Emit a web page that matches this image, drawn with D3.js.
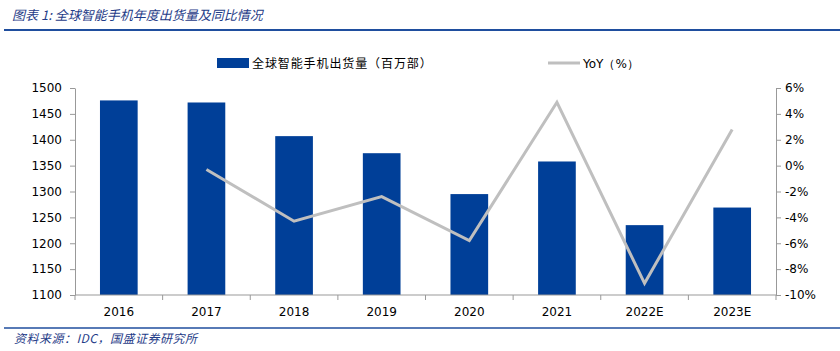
<!DOCTYPE html>
<html>
<head>
<meta charset="utf-8">
<script src="https://cdn.jsdelivr.net/npm/d3@7"></script>
<style>
  body { margin: 0; background: #fff; }
  svg text { font-family: "DejaVu Sans", Verdana, sans-serif; }
  .cjk { font-family: "Noto Sans CJK SC", sans-serif; }
</style>
</head>
<body>
<div id="chart"></div>
<script>
// 数据
const years = ['2016', '2017', '2018', '2019', '2020', '2021', '2022E', '2023E'];
const shipments = [1476, 1472, 1407, 1374, 1295, 1358, 1235, 1269];
const yoy = [null, -0.3, -4.3, -2.4, -5.8, 4.9, -9.1, 2.8];
const leftTicks = [1100, 1150, 1200, 1250, 1300, 1350, 1400, 1450, 1500];
const rightTicks = [-10, -8, -6, -4, -2, 0, 2, 4, 6];

const width = 840, height = 351;
const margin = { left: 75, right: 64, top: 88, bottom: 56 };
const blue = '#003F98';
const gray = '#BFBFBF';
const axisColor = '#999';

const svg = d3.select('#chart').append('svg')
  .attr('width', width)
  .attr('height', height);

// 标题
svg.append('text')
  .attr('class', 'cjk')
  .attr('x', 12).attr('y', 20)
  .style('font-size', '13px')
  .style('font-style', 'italic')
  .style('fill', '#1F3C88')
  .text('图表 1:  全球智能手机年度出货量及同比情况');
svg.append('line')
  .attr('x1', 4).attr('x2', width).attr('y1', 30).attr('y2', 30)
  .style('stroke', '#1F4E9E').style('stroke-width', 2);

// 脚注
svg.append('line')
  .attr('x1', 4).attr('x2', width).attr('y1', 328).attr('y2', 328)
  .style('stroke', '#1F4E9E').style('stroke-width', 1.5);
svg.append('text')
  .attr('class', 'cjk')
  .attr('x', 14).attr('y', 343)
  .style('font-size', '12px')
  .style('font-style', 'italic')
  .style('letter-spacing', '0.5px')
  .style('fill', '#1F3C88')
  .text('资料来源：IDC，国盛证券研究所');

const x0 = margin.left, x1 = width - margin.right;
const y0 = height - margin.bottom, y1 = margin.top;

const x = d3.scaleBand().domain(years).range([x0, x1]).paddingInner(0.57).paddingOuter(0.285);
const xBand = d3.scaleBand().domain(years).range([x0, x1]);
const yL = d3.scaleLinear().domain([1100, 1500]).range([y0, y1]);
const yR = d3.scaleLinear().domain([-10, 6]).range([y0, y1]);

// 坐标轴
const styleAxis = g => {
  g.select('.domain').style('stroke', axisColor);
  g.selectAll('.tick line').style('stroke', axisColor);
  g.selectAll('.tick text').style('font-size', '12px').style('fill', '#000');
};

svg.append('g')
  .attr('transform', `translate(${x0},0)`)
  .call(d3.axisLeft(yL).tickValues(leftTicks).tickSize(5).tickPadding(8).tickSizeOuter(0)
    .tickFormat(d3.format('d')))
  .call(styleAxis);

svg.append('g')
  .attr('transform', `translate(${x1},0)`)
  .call(d3.axisRight(yR).tickValues(rightTicks).tickSize(5).tickPadding(4).tickSizeOuter(0)
    .tickFormat(d => d + '%'))
  .call(styleAxis);

// 柱
svg.append('g').selectAll('rect')
  .data(years)
  .join('rect')
  .attr('x', d => x(d))
  .attr('width', x.bandwidth())
  .attr('y', (d, i) => yL(shipments[i]))
  .attr('height', (d, i) => y0 - yL(shipments[i]))
  .style('fill', blue);

// 底部轴
const xAxis = svg.append('g')
  .attr('transform', `translate(0,${y0})`);
xAxis.append('line')
  .attr('x1', x0).attr('x2', x1).attr('y1', 0).attr('y2', 0)
  .style('stroke', axisColor);
xAxis.selectAll('.tk')
  .data(years.concat(['end']))
  .join('line')
  .attr('x1', (d, i) => x0 + i * xBand.bandwidth())
  .attr('x2', (d, i) => x0 + i * xBand.bandwidth())
  .attr('y1', 0).attr('y2', 5)
  .style('stroke', axisColor);
xAxis.selectAll('text')
  .data(years)
  .join('text')
  .attr('x', d => xBand(d) + xBand.bandwidth() / 2)
  .attr('y', 21)
  .attr('text-anchor', 'middle')
  .style('font-size', '12px')
  .text(d => d);

// 折线
const line = d3.line()
  .defined(d => d.v !== null)
  .x(d => xBand(d.k) + xBand.bandwidth() / 2)
  .y(d => yR(d.v));
svg.append('path')
  .datum(years.map((k, i) => ({ k, v: yoy[i] })))
  .attr('d', line)
  .style('fill', 'none')
  .style('stroke', gray)
  .style('stroke-width', 3)
  .style('stroke-linejoin', 'miter');

// 图例
const lg = svg.append('g');
lg.append('rect').attr('x', 217).attr('y', 58).attr('width', 32).attr('height', 10).style('fill', blue);
lg.append('text').attr('class', 'cjk').attr('x', 252).attr('y', 68)
  .style('font-size', '12px').style('letter-spacing', '0.9px').text('全球智能手机出货量（百万部）');
lg.append('line').attr('x1', 548).attr('x2', 580).attr('y1', 63).attr('y2', 63)
  .style('stroke', gray).style('stroke-width', 3);
lg.append('text').attr('x', 583).attr('y', 68)
  .style('font-size', '12px').text('YoY（%）');
</script>
</body>
</html>
